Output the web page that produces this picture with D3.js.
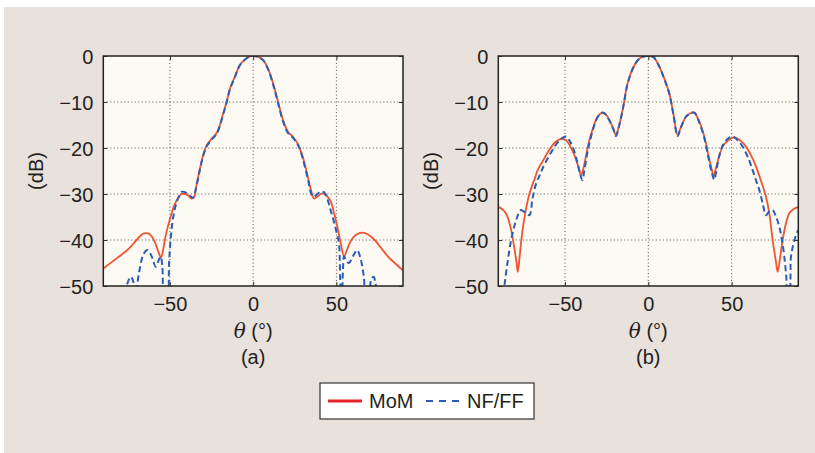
<!DOCTYPE html>
<html>
<head>
<meta charset="utf-8">
<script src="https://cdn.jsdelivr.net/npm/d3@7"></script>
<style>
body { margin: 0; background: #fff; }
text { font-family: "Liberation Sans", Arial, sans-serif; fill: #231f20; }
</style>
</head>
<body>
<svg id="chart" width="815" height="453"></svg>
<script>
"use strict";

// angle axis and dB axis
var xTicks = [-50, 0, 50];
var yTicks = [0, -10, -20, -30, -40, -50];
var panelNames = ["(a)", "(b)"];
var seriesNames = ["MoM", "NF/FF"];

// (a) [theta, dB]
var momA = [[-90,-46.2],[-82,-44],[-75,-42],[-70,-40],[-66,-38.6],[-62,-38.8],[-59,-40.5],[-56.5,-43],[-55.3,-43.8],
	[-54,-42],[-52.5,-39],[-50,-35.5],[-47.5,-32.6],[-45,-30.8],[-43,-30],[-41,-30],[-39,-30.3],[-37,-31],[-35.5,-30.7],
	[-34,-28],[-32,-24.5],[-30,-21.5],[-28,-19.5],[-25,-18],[-22,-16.8],[-20,-15],[-18,-12.5],[-16,-10],[-14,-7.2],
	[-11,-4.5],[-8,-2],[-5,-0.8],[-2,-0.1],[0,0],[3,-0.2],[6,-0.9],[9,-2.8],[12,-6],[15,-10],[18,-14],[21,-16.5],
	[24,-17.6],[27,-19.2],[29,-21],[31,-23.5],[33,-26.5],[35,-29.5],[36.5,-31],[38.5,-30.6],[40.5,-30],[42.5,-29.9],
	[44.5,-30.5],[46.5,-31.5],[48.5,-34],[50.5,-37],[52.5,-40.5],[54.6,-43.6],[56.5,-42],[59,-40],[62,-38.8],
	[65.5,-38.4],[69,-38.8],[73,-40],[77,-41.8],[81,-43.6],[85,-45],[90,-46.6]];

var nfA = [[-90,-58],[-80,-55],[-76.5,-50.5],[-73.4,-48],[-70.4,-50.5],[-68.5,-47],[-66,-43.2],[-63.5,-42.2],[-61,-43.5],
	[-58.5,-45.8],[-56.5,-44.2],[-55.5,-43.6],[-54.5,-46],[-53.6,-51],[-51.5,-52],[-50.5,-45],[-49.6,-40],[-48,-35],
	[-46.5,-32.5],[-44.5,-30.5],[-42.6,-29.5],[-40,-29.8],[-38,-30.4],[-36,-30.8],[-34.5,-29],[-32,-24.8],[-30,-21.7],
	[-28,-19.7],[-25,-18.2],[-22,-17],[-20,-15.2],[-18,-12.7],[-16,-10.2],[-14,-7.3],[-11,-4.6],[-8,-2],[-5,-0.8],
	[-2,-0.1],[0,0],[3,-0.2],[6,-0.9],[9,-2.9],[12,-6.2],[15,-10.3],[18,-14.3],[21,-16.8],[24,-17.8],[27,-19.4],
	[29,-21.3],[31,-24],[33,-27],[35,-30],[36.5,-30.6],[38.5,-30],[40.5,-29.5],[42.5,-29.6],[44.5,-31],[46.5,-33.5],
	[48.5,-36],[50.5,-39],[51.6,-41],[52.6,-51],[53.2,-52],[54,-46],[54.6,-43.6],[56,-44.5],[57.5,-45],[60,-43.5],
	[62.5,-42.2],[64.5,-44],[66.5,-48],[67.5,-51],[69.5,-51],[71,-48.5],[72.4,-48],[73.5,-49.5],[74.5,-51],[80,-56],[90,-60]];

// (b) [theta, dB]
var momB = [[-90,-32.8],[-87,-33.5],[-85,-34.5],[-82.3,-37.8],[-80.5,-41.5],[-79,-45],[-78.3,-46.9],[-77.3,-44],
	[-76,-39.5],[-74,-34.5],[-71.3,-29.9],[-68,-26.5],[-66.4,-24.8],[-62,-22],[-59.4,-20.4],[-56,-18.8],[-52.4,-18],
	[-49.4,-18.3],[-47,-19.5],[-44.4,-21.5],[-42,-24],[-40.4,-25.9],[-39,-24.5],[-37,-21],[-35.4,-18.3],[-33,-15.5],
	[-31.4,-13.9],[-29,-12.6],[-27.4,-12.3],[-25.5,-12.7],[-23.4,-13.9],[-21,-15.8],[-19.4,-17.2],[-17.8,-15.5],
	[-15.4,-11.7],[-12.4,-5.9],[-9,-2.5],[-6,-0.8],[-3,-0.1],[0,0],[3,-0.2],[6.6,-2.3],[9.5,-4.8],[12.6,-8.1],
	[15,-12.5],[17.6,-17.2],[19.5,-15.5],[22.6,-13.2],[25,-12.5],[27.6,-12.3],[30,-13.8],[33.6,-17.5],[36,-21.5],
	[38,-24.5],[39.2,-26.2],[40.5,-24.5],[42.5,-21.8],[44.6,-19.7],[48,-18.3],[51.6,-17.7],[55,-18.3],[58.6,-19.7],
	[61.5,-21.5],[64.6,-24],[67.5,-27],[70.6,-30.6],[72.5,-34],[74.6,-40],[76.5,-44.5],[77.6,-46.9],[79,-44],
	[80.6,-40],[82.5,-36.5],[84.6,-34.2],[87,-33.3],[90,-32.8]];

var nfB = [[-90,-60],[-87.5,-53],[-86.3,-49.8],[-84.3,-44.5],[-82.3,-40],[-80.5,-37.2],[-79.3,-35.7],[-77.8,-34.2],
	[-76.3,-33.5],[-74,-34],[-71.3,-34.6],[-69.5,-31],[-67.3,-27.7],[-65,-25.8],[-63.4,-24.4],[-60,-22],[-57.4,-20.4],
	[-54,-18.6],[-51,-17.7],[-49.4,-17.5],[-47.5,-18.3],[-45.4,-19.7],[-43,-22.5],[-41,-25.5],[-39.6,-27],[-38.4,-25],
	[-36.8,-21.5],[-35.4,-19],[-33,-15.8],[-31.4,-14],[-29,-12.6],[-27.4,-12.3],[-25.5,-12.7],[-23.4,-14],[-21,-15.9],
	[-19.4,-17.4],[-17.8,-15.6],[-15.4,-11.8],[-12.4,-6],[-9,-2.5],[-6,-0.8],[-3,-0.1],[0,0],[3,-0.2],[6.6,-2.3],
	[9.5,-4.9],[12.6,-8.2],[15,-12.6],[17.6,-17.4],[19.5,-15.6],[22.6,-13.2],[25,-12.5],[27.6,-12.3],[30,-13.9],
	[33.6,-17.8],[36,-22],[38,-25.2],[39.6,-26.9],[41,-24.5],[43,-21.2],[45,-19.2],[48,-17.9],[50.6,-17.5],
	[53.5,-18.3],[56.6,-19.7],[60,-22.2],[62.6,-24.8],[64.6,-27],[66.6,-29.1],[68.6,-32],[70.6,-34.6],[72.5,-33.8],
	[74.6,-33.5],[76.5,-34.8],[78.6,-37.1],[80.2,-40],[81.6,-43.6],[82.8,-48],[83.6,-52],[84.5,-52],[85.6,-43.6],
	[87,-41],[88.6,-38.9],[90,-37.8]];

var momColor = "#ef5533";
var nfColor = "#2b5db5";

var svg = d3.select("#chart");

svg.append("rect")
	.attr("x", 4).attr("y", 7)
	.attr("width", 811).attr("height", 446)
	.attr("fill", "#e9e1dc");

var plotTop = 56, plotBottom = 286;
var panels = [
	{ left: 103.3, right: 403, mom: momA, nf: nfA, name: panelNames[0] },
	{ left: 498.3, right: 798.3, mom: momB, nf: nfB, name: panelNames[1] }
];

function drawPanel(p, i) {
	var x = d3.scaleLinear().domain([-90, 90]).range([p.left, p.right]);
	var y = d3.scaleLinear().domain([-50, 0]).range([plotBottom, plotTop]);
	var g = svg.append("g");
	var w = p.right - p.left, h = plotBottom - plotTop;

	g.append("rect")
		.attr("x", p.left).attr("y", plotTop)
		.attr("width", w).attr("height", h)
		.attr("fill", "#fcfaf2");

	// dotted grid
	g.selectAll(".gx").data(xTicks).enter().append("line")
		.attr("x1", function(d) { return x(d); }).attr("x2", function(d) { return x(d); })
		.attr("y1", plotTop).attr("y2", plotBottom)
		.attr("stroke", "#555").attr("stroke-width", 1).attr("stroke-dasharray", "1,2.5");
	g.selectAll(".gy").data(yTicks.slice(1, -1)).enter().append("line")
		.attr("x1", p.left).attr("x2", p.right)
		.attr("y1", function(d) { return y(d); }).attr("y2", function(d) { return y(d); })
		.attr("stroke", "#555").attr("stroke-width", 1).attr("stroke-dasharray", "1,2.5");

	var clipId = "clip" + i;
	svg.append("clipPath").attr("id", clipId).append("rect")
		.attr("x", p.left).attr("y", plotTop).attr("width", w).attr("height", h);

	var line = d3.line()
		.x(function(d) { return x(d[0]); })
		.y(function(d) { return y(d[1]); })
		.curve(d3.curveCatmullRom.alpha(0.5));

	var lines = g.append("g").attr("clip-path", "url(#" + clipId + ")");
	lines.append("path").datum(p.mom)
		.attr("d", line).attr("fill", "none")
		.attr("stroke", momColor).attr("stroke-width", 1.8);
	lines.append("path").datum(p.nf)
		.attr("d", line).attr("fill", "none")
		.attr("stroke", nfColor).attr("stroke-width", 2)
		.attr("stroke-dasharray", "6,3.5");

	// axes with inward ticks
	g.append("g").attr("transform", "translate(0," + plotBottom + ")")
		.call(d3.axisBottom(x).tickValues(xTicks).tickSizeInner(-4).tickSizeOuter(0).tickPadding(11));
	g.append("g").attr("transform", "translate(0," + plotTop + ")")
		.call(d3.axisTop(x).tickValues(xTicks).tickSizeInner(-4).tickSizeOuter(0).tickFormat(""));
	var ay = g.append("g").attr("transform", "translate(" + p.left + ",0)")
		.call(d3.axisLeft(y).tickValues(yTicks).tickSizeInner(-4).tickSizeOuter(0).tickPadding(10));
	g.append("g").attr("transform", "translate(" + p.right + ",0)")
		.call(d3.axisRight(y).tickValues(yTicks).tickSizeInner(-4).tickSizeOuter(0).tickFormat(""));
	g.selectAll(".domain").remove();
	g.selectAll(".tick line").attr("stroke", "#333");
	g.selectAll(".tick text")
		.style("font-family", "'Liberation Sans', Arial, sans-serif")
		.style("font-size", "20px").attr("fill", "#231f20");
	ay.selectAll(".tick text").attr("dy", "0.36em");

	g.append("rect")
		.attr("x", p.left).attr("y", plotTop)
		.attr("width", w).attr("height", h)
		.attr("fill", "none").attr("stroke", "#222").attr("stroke-width", 1.5);

	var cx = (p.left + p.right) / 2;
	var xl = g.append("text").attr("x", cx).attr("y", 338)
		.attr("text-anchor", "middle").style("font-size", "20px");
	xl.append("tspan").style("font-style", "italic").style("font-family", "'DejaVu Serif', serif").text("θ");
	xl.append("tspan").text(" (°)");

	g.append("text").attr("x", cx).attr("y", 364)
		.attr("text-anchor", "middle").style("font-size", "20px").text(p.name);

	g.append("text")
		.attr("transform", "translate(" + (p.left - 60) + "," + ((plotTop + plotBottom) / 2) + ") rotate(-90)")
		.attr("text-anchor", "middle").style("font-size", "20px").text("(dB)");
}

panels.forEach(drawPanel);

// legend
var lg = svg.append("g");
lg.append("rect").attr("x", 320).attr("y", 383).attr("width", 214).attr("height", 36)
	.attr("fill", "#fff").attr("stroke", "#333").attr("stroke-width", 1.2);
lg.append("line").attr("x1", 328).attr("x2", 362).attr("y1", 401).attr("y2", 401)
	.attr("stroke", "#e8222a").attr("stroke-width", 3);
lg.append("text").attr("x", 369).attr("y", 408).style("font-size", "20px").text(seriesNames[0]);
lg.append("line").attr("x1", 426).attr("x2", 460).attr("y1", 401).attr("y2", 401)
	.attr("stroke", nfColor).attr("stroke-width", 2).attr("stroke-dasharray", "7,6");
lg.append("text").attr("x", 467).attr("y", 408).style("font-size", "20px").text(seriesNames[1]);
</script>
</body>
</html>
